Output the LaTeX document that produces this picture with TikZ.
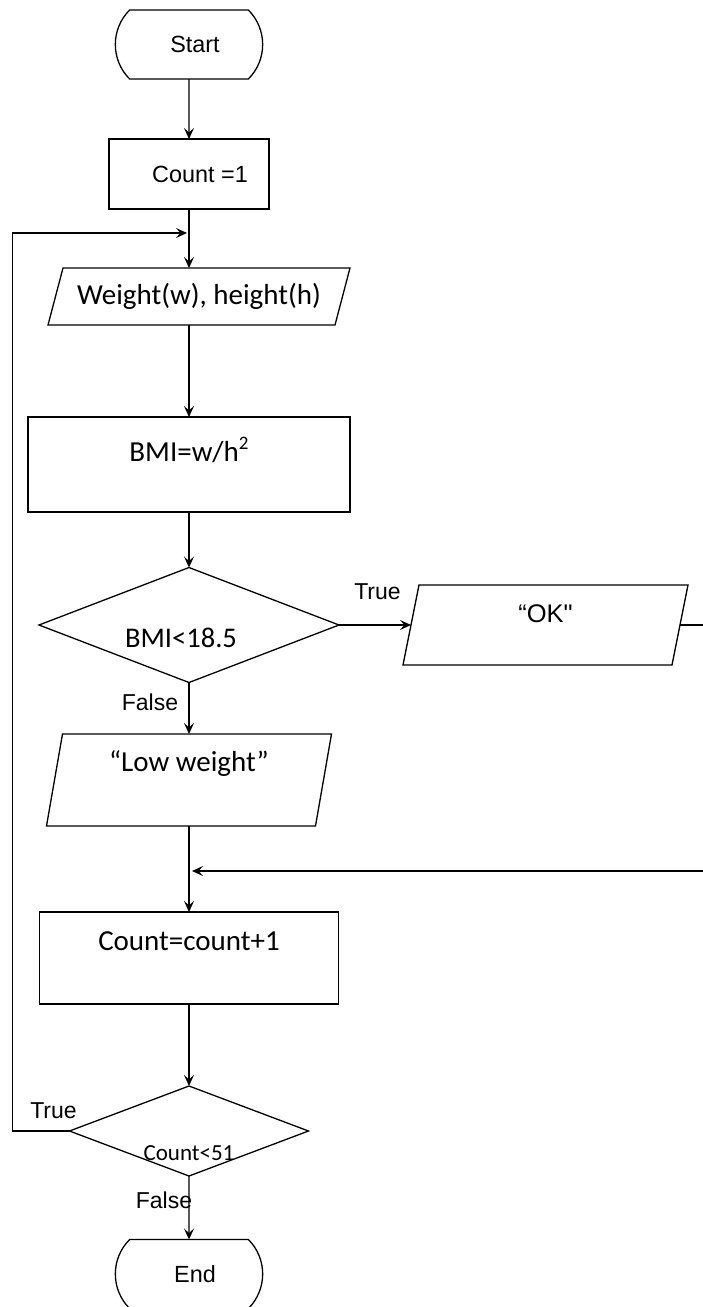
\documentclass[tikz,border=0pt]{standalone}
\usepackage{fontspec}
\setmainfont{Liberation Sans}
\newfontfamily\calibri{Carlito}
\usetikzlibrary{shapes.geometric,shapes.misc,arrows.meta}

\tikzset{
  base/.style={draw=black, line width=1.3pt, outer sep=0pt,
    font=\fontsize{23.4}{28}\selectfont},
  terminal/.style={base, rounded rectangle, rounded rectangle arc length=90,
    minimum width=154pt, minimum height=69pt},
  process/.style={base, rectangle, font=\calibri\fontsize{29}{34}\selectfont},
  iobox/.style={rectangle, draw=none, outer sep=0pt,
    font=\calibri\fontsize{29}{34}\selectfont},
  decision/.style={base, diamond, inner sep=0pt},
  flow/.style={line width=1.3pt, -{Stealth[length=11pt,width=10pt,inset=4.5pt]}},
  line/.style={line width=1.3pt, line join=miter},
  tag/.style={font=\fontsize{23}{28}\selectfont}
}

\begin{document}
\begin{tikzpicture}[x=1pt, y=-1pt]
    \useasboundingbox (0,0) rectangle (703,1307);
    \clip (0,0) rectangle (703,1307);

    % blocks
    \node[terminal] (start) at (189,44.5) {\hspace*{12pt}Start};
    \node[process, minimum width=160pt, minimum height=70pt,
      font=\fontsize{23.4}{28}\selectfont] (init) at (189,174) {\hspace*{22pt}Count =1};
    \node[iobox, minimum width=302pt, minimum height=57pt] (input) at (199,296.5)
      {Weight(w), height(h)};
    \node[process, minimum width=322pt, minimum height=95pt, text depth=30pt]
      (bmi) at (189,464.5) {BMI=w/h\raisebox{0.42em}{\fontsize{19}{20}\selectfont 2}};
    \node[decision, minimum width=300pt, minimum height=115pt,
      label={[font=\calibri\fontsize{28.5}{34}\selectfont, xshift=-8pt, yshift=-13pt]center:BMI<18.5}]
      (check) at (189,625) {};
    \node[iobox, minimum width=285pt, minimum height=80pt, text depth=22pt,
      font=\fontsize{25.5}{30}\selectfont] (ok) at (545.5,625) {“OK\textquotedbl};
    \node[iobox, minimum width=285pt, minimum height=92pt, text depth=37pt]
      (low) at (189,780) {“Low weight”};
    \node[process, minimum width=299pt, minimum height=92pt, text depth=34pt]
      (incr) at (189,958) {Count=count+1};
    \node[decision, minimum width=239pt, minimum height=90pt,
      label={[font=\calibri\fontsize{23}{28}\selectfont, yshift=-22pt]center:Count<51}]
      (loop) at (189,1131) {};
    \node[terminal] (stop) at (189,1274) {\hspace*{12pt}End};

    % slanted input/output boxes
    \foreach \n/\s in {input/15pt, ok/16pt, low/16pt}
      \draw[line] (\n.south west) -- ([xshift=\s]\n.north west)
        -- (\n.north east) -- ([xshift=-\s]\n.south east) -- cycle;

    \coordinate (back) at (189,233);
    \coordinate (join) at (189,871);

    % connectors
    \draw[flow] (start) -- (init);
    \draw[flow] (init.south) -- (init.south |- input.north);
    \draw[flow] (input.south -| bmi.north) -- (bmi.north);
    \draw[flow] (bmi) -- (check);
    \draw[flow] (check.east) -- ([xshift=8pt]ok.west)
      node[tag, midway, xshift=2.5pt, yshift=33.5pt] (ctrue) {True};
    \draw[flow] (check) -- (low)
      node[tag, pos=0.38, xshift=-39pt] (cfalse) {False};
    \draw[flow] ([xshift=-8pt]ok.east) -- ++(30,0) |- ([xshift=3pt]join);
    \draw[flow] (low) -- (incr);
    \draw[flow] (incr) -- (loop);
    \draw[flow] (loop.west) -- ++(-57,0)
      node[tag, midway, xshift=12.5pt, yshift=20pt] (ltrue) {True}
      |- ([xshift=-2pt]back);
    \draw[flow] (loop) -- (stop)
      node[tag, pos=0.38, xshift=-25pt] (lfalse) {False};
\end{tikzpicture}
\end{document}
